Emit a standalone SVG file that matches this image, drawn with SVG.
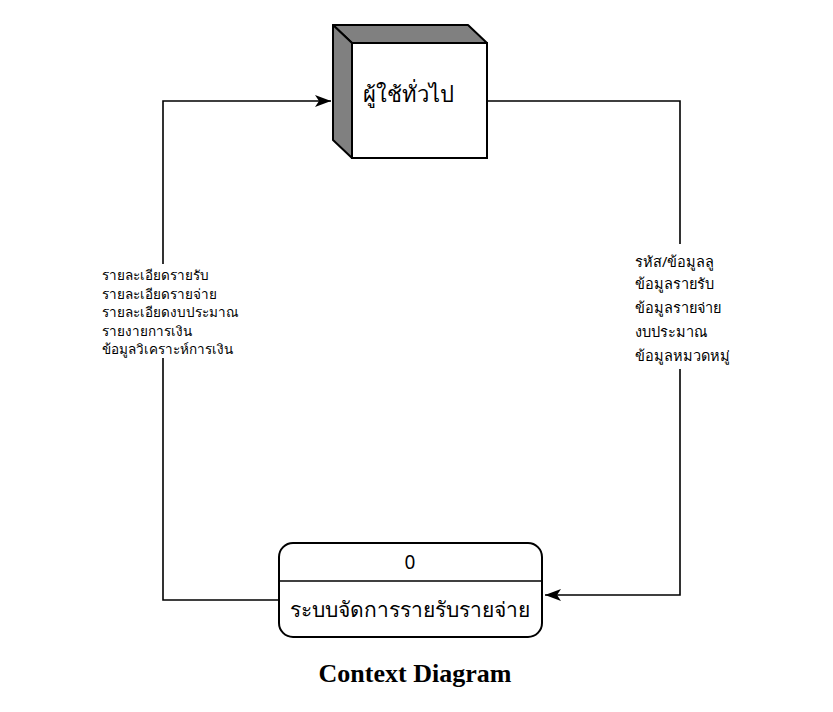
<svg xmlns="http://www.w3.org/2000/svg" width="833" height="712" viewBox="0 0 833 712">
<style>
.ln{fill:none;stroke:#000;stroke-width:1.6}
.lbl{font-family:"Noto Sans","DejaVu Sans",sans-serif;font-size:14.5px;fill:#000}
.lbl2{font-family:"Noto Sans","DejaVu Sans",sans-serif;font-size:13.5px;fill:#000}
.th{font-family:"Noto Sans","DejaVu Sans",sans-serif;fill:#000}
</style>
<defs>
<marker id="arr" viewBox="0 0 16 12" markerWidth="16" markerHeight="12" refX="16" refY="6" orient="auto" markerUnits="userSpaceOnUse">
<path d="M0,0 L16,6 L0,12 L4,6 z" fill="#000"/>
</marker>
</defs>
<rect width="833" height="712" fill="#fff"/>
<g id="connectors">
<path class="ln" d="M279,600 H163 V101 H331" marker-end="url(#arr)"/>
<path class="ln" d="M487,101 H680 V595 H545" marker-end="url(#arr)"/>
<rect x="98" y="264" width="152" height="94" fill="#fff"/>
<text class="lbl2" x="102" y="280">รายละเอียดรายรับ</text>
<text class="lbl2" x="102" y="298.5">รายละเอียดรายจ่าย</text>
<text class="lbl2" x="102" y="317">รายละเอียดงบประมาณ</text>
<text class="lbl2" x="102" y="335.5">รายงายการเงิน</text>
<text class="lbl2" x="102" y="354">ข้อมูลวิเคราะห์การเงิน</text>
<rect x="630" y="244" width="105" height="125" fill="#fff"/>
<text class="lbl" x="635" y="267">รหัส/ข้อมูลลู</text>
<text class="lbl" x="635" y="289">ข้อมูลรายรับ</text>
<text class="lbl" x="635" y="313">ข้อมูลรายจ่าย</text>
<text class="lbl" x="635" y="337">งบประมาณ</text>
<text class="lbl" x="635" y="361">ข้อมูลหมวดหมู่</text>
</g>
<g id="user">
<polygon points="333,25 468,25 487,43 352,43" fill="#808080" stroke="#000" stroke-width="2" stroke-linejoin="round"/>
<polygon points="333,25 352,43 352,158 333,140" fill="#808080" stroke="#000" stroke-width="2" stroke-linejoin="round"/>
<rect x="352" y="43" width="135" height="115" fill="#fff" stroke="#000" stroke-width="2"/>
<text class="th" x="363" y="102" font-size="22">ผู้ใช้ทั่วไป</text>
</g>
<g id="process">
<rect x="279" y="543" width="263" height="94" rx="14" fill="#fff" stroke="#000" stroke-width="2"/>
<line x1="279" y1="581" x2="542" y2="581" stroke="#000" stroke-width="1.6"/>
<text class="th" x="410" y="569" font-size="19" text-anchor="middle">0</text>
<text class="th" x="410" y="617" font-size="21" text-anchor="middle">ระบบจัดการรายรับรายจ่าย</text>
</g>
<text x="415" y="682" font-family="'Liberation Serif',serif" font-weight="bold" font-size="26" text-anchor="middle">Context Diagram</text>
</svg>
